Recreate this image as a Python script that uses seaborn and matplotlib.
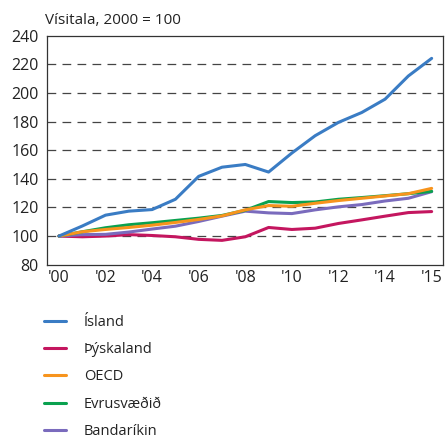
import numpy as np
import pandas as pd
import matplotlib
matplotlib.use("Agg")
import matplotlib.pyplot as plt
import seaborn as sns
from matplotlib.lines import Line2D

idx = list(range(17))
tick_pos = [0, 2, 4, 6, 8, 10, 12, 14, 16]
tick_labels = ["'00", "'02", "'04", "'06", "'08", "'10", "'12", "'14", "'15"]

island = [100, 107, 114.6, 117.4, 118.5, 125.7, 141.7, 148.1, 150, 144.7, 158, 170.1, 179.4, 186.3, 195.6, 211.8, 224.1]
thyskaland = [100, 99.5, 100, 101, 100.4, 99.5, 97.7, 97, 99.5, 106, 104.6, 105.5, 108.8, 111.3, 113.9, 116.4, 117.1]
oecd = [100, 103, 104.6, 106, 107.6, 109.5, 111.6, 114.1, 118.3, 121.3, 120.8, 122.9, 124.8, 126.4, 128, 129.6, 133.3]
evru = [100, 103, 105.8, 107.9, 109.3, 110.9, 112.5, 114.4, 118, 124.1, 123.4, 123.8, 125.7, 126.9, 128.2, 129.6, 131.2]
usa = [100, 101, 101.2, 102.8, 104.9, 106.9, 110.2, 113.9, 117.4, 116.2, 115.7, 118.3, 120.4, 122, 124.5, 126.4, 131]

names = ["Ísland", "Þýskaland", "OECD", "Evrusvæðið", "Bandaríkin"]
colors = ["#3a7cc4", "#c4165f", "#f7941d", "#0aa14f", "#7a6bbd"]
series = [island, thyskaland, oecd, evru, usa]

rows = []
for n, s in zip(names, series):
    for i, v in zip(idx, s):
        rows.append({"x": i, "y": v, "series": n})
df = pd.DataFrame(rows)

sns.set_style("white")
plt.rcParams["font.family"] = ["Open Sans", "DejaVu Sans"]

fig = plt.figure(figsize=(4.48, 4.37), dpi=100)
ax = fig.add_axes([47.3 / 448, 1 - 264.7 / 437, (443.3 - 47.3) / 448, (264.7 - 35.6) / 437])

for yv in [100, 120, 140, 160, 180, 200, 220]:
    ax.axhline(yv, color="#444444", lw=0.9, ls=(0, (7, 5)), zorder=1)

pal = dict(zip(names, colors))
sns.lineplot(data=df, x="x", y="y", hue="series", hue_order=names, palette=pal,
             lw=2.2, ax=ax, legend=False, zorder=3)
zo = {"Ísland": 6, "Þýskaland": 4, "OECD": 5.5, "Evrusvæðið": 5, "Bandaríkin": 4.5}
for line, n in zip(ax.get_lines()[-5:], names):
    line.set_zorder(zo[n])

ax.set_xlim(-0.5, 16.5)
ax.set_ylim(80, 240)
ax.set_yticks([80, 100, 120, 140, 160, 180, 200, 220, 240])
ax.set_xticks(tick_pos)
ax.set_xticklabels(tick_labels)
ax.set_xticks([k - 0.5 for k in range(1, 17)], minor=True)
ax.tick_params(axis="x", which="major", length=0, pad=4, labelsize=11.5, colors="#222222")
ax.tick_params(axis="x", which="minor", length=5, width=0.9, direction="out", color="#333333")
ax.tick_params(axis="y", which="major", length=5, width=0.9, direction="out", color="#333333",
               labelsize=11.5, labelcolor="#222222", pad=1)
ax.set_xlabel("")
ax.set_ylabel("")
for sp in ax.spines.values():
    sp.set_color("#333333")
    sp.set_linewidth(0.9)
    sp.set_visible(True)

fig.text(45 / 448, 1 - 20 / 437, "Vísitala, 2000 = 100", fontsize=11, va="center", ha="left", color="#222222")

handles = [Line2D([0], [0], color=c, lw=2.2) for c in colors]
leg = fig.legend(handles, names, loc="upper left", bbox_to_anchor=(44 / 448, 1 - 315 / 437),
                 frameon=False, fontsize=10.5, handlelength=1.5, handletextpad=1.25,
                 labelspacing=0.84, borderaxespad=0, borderpad=0)
for t in leg.get_texts():
    t.set_color("#222222")

fig.savefig("out.png", dpi=100)
